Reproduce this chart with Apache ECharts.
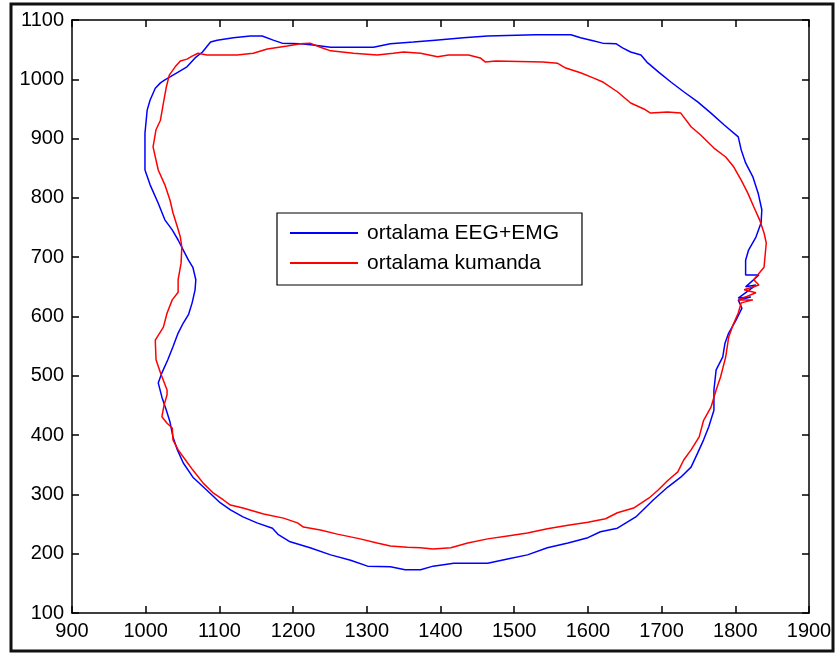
<html lang="en">
<head>
<meta charset="UTF-8" />
<title>ortalama</title>
<script src="https://cdn.jsdelivr.net/npm/echarts@6/dist/echarts.min.js"></script>
<style>
  * { padding: 0; margin: 0; }
  body { background: #fff; }
</style>
</head>
<body>
<div id="main" style="width:837px;height:655px"></div>
<script>
// ortalama EEG+EMG (blue)
var blueX = [999, 999, 1002, 1006, 1013, 1020, 1026, 1033, 1044, 1056, 1067, 1077, 1088, 1097, 1119, 1142, 1158, 1173, 1185, 1210,
  1227, 1251, 1309, 1332, 1363, 1393, 1431, 1464, 1529, 1577, 1590, 1607, 1620, 1638, 1647, 1658, 1672, 1680, 1696, 1713,
  1730, 1749, 1767, 1785, 1804, 1808, 1814, 1824, 1831, 1836, 1835, 1828, 1818, 1814, 1814, 1812, 1832, 1814, 1828, 1804,
  1821, 1804, 1809, 1801, 1791, 1786, 1783, 1774, 1771, 1771, 1764, 1757, 1749, 1740, 1726, 1708, 1689, 1665, 1640, 1617,
  1600, 1573, 1545, 1518, 1491, 1464, 1418, 1390, 1373, 1352, 1332, 1301, 1278, 1251, 1223, 1196, 1180, 1172, 1151, 1132,
  1115, 1101, 1083, 1064, 1051, 1043, 1037, 1033, 1028, 1022, 1017, 1022, 1030, 1037, 1044, 1051, 1058, 1063, 1067, 1068,
  1064, 1058, 1051, 1044, 1036, 1026, 1017, 1006, 999]
var blueY = [847, 909, 948, 965, 985, 994, 999, 1004, 1012, 1021, 1036, 1046, 1063, 1066, 1070, 1073, 1073, 1066, 1061, 1060,
  1058, 1054, 1054, 1060, 1063, 1066, 1070, 1073, 1075, 1075, 1070, 1065, 1061, 1060, 1053, 1046, 1041, 1029, 1012, 995,
  979, 962, 943, 923, 903, 881, 859, 835, 808, 780, 758, 734, 712, 695, 670, 667, 670, 650, 653, 631,
  633, 628, 614, 594, 572, 555, 532, 510, 476, 442, 414, 392, 370, 346, 329, 312, 291, 262, 243, 237,
  227, 218, 210, 198, 191, 184, 184, 179, 173, 173, 178, 179, 189, 198, 210, 220, 232, 243, 252, 262,
  274, 286, 307, 329, 353, 375, 397, 422, 442, 464, 488, 505, 527, 549, 572, 589, 603, 623, 645, 662,
  683, 695, 712, 729, 746, 763, 791, 822, 847]

// ortalama kumanda (red)
var redX = [1017, 1010, 1014, 1020, 1024, 1028, 1032, 1040, 1047, 1056, 1063, 1071, 1083, 1124, 1146, 1165, 1192, 1210, 1223, 1237,
  1251, 1282, 1314, 1336, 1350, 1373, 1396, 1411, 1438, 1454, 1461, 1475, 1539, 1559, 1570, 1590, 1608, 1621, 1640, 1658,
  1676, 1685, 1708, 1726, 1740, 1753, 1771, 1787, 1798, 1808, 1817, 1825, 1833, 1839, 1842, 1839, 1825, 1832, 1812, 1828,
  1804, 1824, 1808, 1804, 1797, 1791, 1787, 1780, 1774, 1767, 1757, 1751, 1740, 1730, 1722, 1708, 1695, 1683, 1662, 1640,
  1624, 1600, 1573, 1545, 1518, 1491, 1464, 1437, 1414, 1390, 1373, 1355, 1332, 1314, 1291, 1260, 1237, 1214, 1206, 1187,
  1160, 1132, 1115, 1105, 1092, 1078, 1064, 1054, 1044, 1037, 1036, 1029, 1022, 1025, 1029, 1029, 1020, 1014, 1013, 1020,
  1024, 1029, 1036, 1044, 1044, 1048, 1049, 1047, 1043, 1037, 1033, 1026, 1017]
var redY = [847, 886, 915, 931, 960, 987, 1007, 1021, 1031, 1034, 1039, 1044, 1041, 1041, 1044, 1051, 1056, 1060, 1061, 1054,
  1048, 1044, 1041, 1044, 1046, 1044, 1038, 1041, 1041, 1036, 1029, 1031, 1029, 1027, 1019, 1011, 1002, 995, 979, 960,
  950, 943, 945, 943, 920, 906, 884, 869, 852, 830, 808, 785, 763, 741, 724, 683, 662, 653, 645, 640,
  628, 628, 623, 606, 586, 565, 532, 498, 476, 447, 425, 397, 375, 358, 338, 323, 307, 294, 277, 269,
  259, 253, 248, 242, 235, 230, 225, 218, 210, 208, 210, 211, 213, 218, 225, 233, 240, 245, 252, 260,
  267, 277, 282, 291, 302, 319, 341, 358, 375, 392, 412, 420, 431, 451, 468, 476, 505, 527, 560, 574,
  582, 606, 628, 641, 662, 690, 717, 734, 751, 775, 796, 822, 847]

var seriesNames = ["ortalama EEG+EMG", "ortalama kumanda"]
var xTicks = [900, 1900, 100]   // min, max, step
var yTicks = [100, 1100, 100]

function pairs(xs, ys) {
  return xs.map(function(x, i) { return [x, ys[i]] })
}

var chart = echarts.init(document.getElementById("main"))

var axisFont = { color: "#000", fontSize: 20, fontFamily: "Liberation Sans, Arial, sans-serif" }
var axLine = { show: true, lineStyle: { color: "#000", width: 1.5 } }
var axTick = { show: true, inside: true, length: 7, lineStyle: { color: "#000", width: 1.5 } }
var plain = function(v) { return String(v) }

function xAx(pos, labels) {
  return {
    type: "value", position: pos, min: xTicks[0], max: xTicks[1], interval: xTicks[2],
    axisLine: axLine, axisTick: axTick, splitLine: { show: false },
    axisLabel: Object.assign({ show: labels, margin: 8, showMinLabel: true, showMaxLabel: true, formatter: plain }, axisFont)
  }
}
function yAx(pos, labels) {
  return {
    type: "value", position: pos, min: yTicks[0], max: yTicks[1], interval: yTicks[2],
    axisLine: axLine, axisTick: axTick, splitLine: { show: false },
    axisLabel: Object.assign({ show: labels, margin: 8, formatter: plain }, axisFont)
  }
}

var option = {
  animation: false,
  backgroundColor: "#fff",
  grid: { left: 72, right: 28, top: 20, bottom: 42 },
  graphic: [{
    type: "rect",
    shape: { x: 11, y: 4, width: 822, height: 647 },
    style: { fill: "none", stroke: "#111", lineWidth: 3 },
    silent: true
  }],
  legend: {
    orient: "vertical",
    left: 277, top: 213,
    backgroundColor: "#fff",
    borderColor: "#000", borderWidth: 1.2,
    padding: [9, 23, 11, 13],
    icon: "rect",
    itemWidth: 68, itemHeight: 2, itemGap: 8,
    textStyle: { color: "#000", fontSize: 21, lineHeight: 22, fontFamily: "Liberation Sans, Arial, sans-serif", padding: [0, 0, 0, 4] },
    data: seriesNames
  },
  xAxis: [xAx("bottom", true), xAx("top", false)],
  yAxis: [yAx("left", true), yAx("right", false)],
  series: [
    {
      name: seriesNames[0], type: "line", symbol: "none", showSymbol: false,
      lineStyle: { color: "#0000ff", width: 1.5 }, itemStyle: { color: "#0000ff" },
      data: pairs(blueX, blueY)
    },
    {
      name: seriesNames[1], type: "line", symbol: "none", showSymbol: false,
      lineStyle: { color: "#ff0000", width: 1.5 }, itemStyle: { color: "#ff0000" },
      data: pairs(redX, redY)
    }
  ]
}
chart.setOption(option)
</script>
</body>
</html>
